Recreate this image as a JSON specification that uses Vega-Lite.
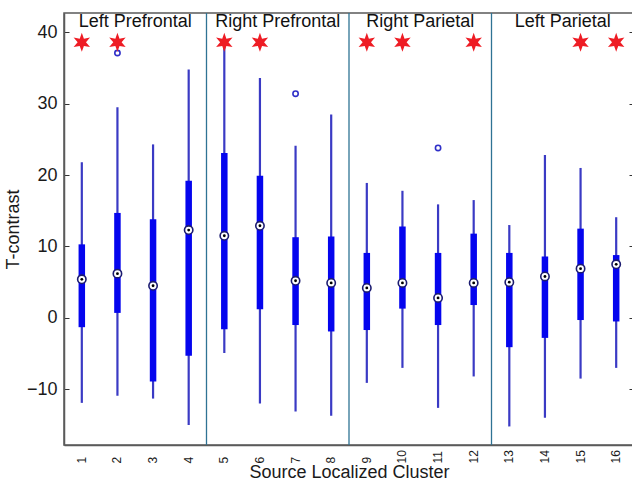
{
  "$schema": "https://vega.github.io/schema/vega-lite/v6.json",
  "width": 570,
  "height": 432,
  "autosize": {"type": "none"},
  "padding": {"left": 64, "top": 13, "right": 0, "bottom": 37},
  "background": "white",
  "config": {
    "font": "Liberation Sans",
    "view": {"stroke": "#5a5a5a", "strokeWidth": 1.5},
    "axis": {"grid": false, "domainColor": "#5a5a5a", "domainWidth": 1.5, "tickColor": "#333333", "labelColor": "#1a1a1a", "titleColor": "#1a1a1a", "titleFontWeight": "normal"}
  },
  "resolve": {"axis": {"y": "independent"}},
  "datasets": {
    "boxes": [
      {"cluster": 1, "lo": -11.9, "q1": -1.3, "med": 5.4, "q3": 10.3, "hi": 21.8},
      {"cluster": 2, "lo": -10.9, "q1": 0.7, "med": 6.2, "q3": 14.7, "hi": 29.5},
      {"cluster": 3, "lo": -11.3, "q1": -8.9, "med": 4.5, "q3": 13.8, "hi": 24.3},
      {"cluster": 4, "lo": -15.0, "q1": -5.3, "med": 12.3, "q3": 19.2, "hi": 34.8},
      {"cluster": 5, "lo": -4.9, "q1": -1.6, "med": 11.5, "q3": 23.1, "hi": 39.0},
      {"cluster": 6, "lo": -12.0, "q1": 1.2, "med": 12.9, "q3": 19.9, "hi": 33.6},
      {"cluster": 7, "lo": -13.1, "q1": -1.0, "med": 5.2, "q3": 11.3, "hi": 24.1},
      {"cluster": 8, "lo": -13.7, "q1": -1.9, "med": 4.9, "q3": 11.4, "hi": 28.5},
      {"cluster": 9, "lo": -9.1, "q1": -1.7, "med": 4.2, "q3": 9.1, "hi": 18.9},
      {"cluster": 10, "lo": -7.0, "q1": 1.3, "med": 4.9, "q3": 12.8, "hi": 17.8},
      {"cluster": 11, "lo": -12.6, "q1": -1.0, "med": 2.8, "q3": 9.1, "hi": 15.9},
      {"cluster": 12, "lo": -8.2, "q1": 1.8, "med": 4.9, "q3": 11.8, "hi": 16.5},
      {"cluster": 13, "lo": -15.2, "q1": -4.1, "med": 5.0, "q3": 9.1, "hi": 13.0},
      {"cluster": 14, "lo": -14.0, "q1": -2.8, "med": 5.8, "q3": 8.6, "hi": 22.8},
      {"cluster": 15, "lo": -8.5, "q1": -0.3, "med": 6.9, "q3": 12.5, "hi": 21.0},
      {"cluster": 16, "lo": -7.0, "q1": -0.5, "med": 7.5, "q3": 8.8, "hi": 14.1}
    ],
    "outliers": [
      {"cluster": 2, "value": 37.1},
      {"cluster": 7, "value": 31.4},
      {"cluster": 11, "value": 23.8}
    ],
    "stars": [
      {"cluster": 1, "value": 38.6},
      {"cluster": 2, "value": 38.6},
      {"cluster": 5, "value": 38.6},
      {"cluster": 6, "value": 38.6},
      {"cluster": 9, "value": 38.6},
      {"cluster": 10, "value": 38.6},
      {"cluster": 12, "value": 38.6},
      {"cluster": 15, "value": 38.6},
      {"cluster": 16, "value": 38.6}
    ],
    "groups": [
      {"first": 1, "center": 3, "value": 41.5, "label": "Left Prefrontal"},
      {"first": 5, "center": 7, "value": 41.5, "label": "Right Prefrontal"},
      {"first": 9, "center": 11, "value": 41.5, "label": "Right Parietal"},
      {"first": 13, "center": 15, "value": 41.5, "label": "Left Parietal"}
    ]
  },
  "layer": [
    {
      "data": {"name": "boxes"},
      "mark": {"type": "rule", "color": "#3a3ac4", "strokeWidth": 2.2},
      "encoding": {
        "x": {"field": "cluster", "type": "nominal", "sort": "ascending", "scale": {"paddingInner": 0, "paddingOuter": 0},
          "axis": {"labelOverlap": false, "labelAngle": 270, "labelFontSize": 12, "labelAlign": "left", "labelBaseline": "middle", "labelPadding": 18, "ticks": false, "title": "Source Localized Cluster", "titleFontSize": 18, "titlePadding": 0}},
        "y": {"field": "lo", "type": "quantitative", "scale": {"domain": [-17.8, 42.7], "nice": false, "zero": false},
          "axis": {"values": [-10, 0, 10, 20, 30, 40], "labelFontSize": 18, "tickSize": -5, "labelPadding": 12, "title": "T-contrast", "titleFontSize": 18, "titlePadding": 4}},
        "y2": {"field": "hi"}
      }
    },
    {
      "data": {"name": "groups"},
      "transform": [{"filter": "datum.first > 1"}],
      "mark": {"type": "rule", "color": "#2f7394", "strokeWidth": 1.3},
      "encoding": {
        "x": {"field": "first", "type": "nominal", "bandPosition": 0}
      }
    },
    {
      "data": {"name": "boxes"},
      "mark": {"type": "rule", "color": "#0505ee", "strokeWidth": 6.5},
      "encoding": {
        "x": {"field": "cluster", "type": "nominal"},
        "y": {"field": "q1", "type": "quantitative",
          "axis": {"orient": "right", "values": [-10, 0, 10, 20, 30, 40], "labels": false, "tickSize": -5, "title": null}},
        "y2": {"field": "q3"}
      }
    },
    {
      "data": {"name": "boxes"},
      "mark": {"type": "point", "shape": "circle", "filled": false, "fill": "white", "fillOpacity": 1, "stroke": "#1c1c70", "strokeWidth": 1.6, "size": 70, "opacity": 1},
      "encoding": {
        "x": {"field": "cluster", "type": "nominal"},
        "y": {"field": "med", "type": "quantitative", "axis": null}
      }
    },
    {
      "data": {"name": "boxes"},
      "mark": {"type": "point", "shape": "circle", "filled": true, "color": "#000000", "size": 8, "opacity": 1},
      "encoding": {
        "x": {"field": "cluster", "type": "nominal"},
        "y": {"field": "med", "type": "quantitative", "axis": null}
      }
    },
    {
      "data": {"name": "outliers"},
      "mark": {"type": "point", "shape": "circle", "filled": false, "stroke": "#3030c8", "strokeWidth": 1.6, "size": 28, "opacity": 1},
      "encoding": {
        "x": {"field": "cluster", "type": "nominal"},
        "y": {"field": "value", "type": "quantitative", "axis": null}
      }
    },
    {
      "data": {"name": "stars"},
      "mark": {"type": "point", "shape": "M0,-1L0.22,-0.38L0.866,-0.5L0.44,0L0.866,0.5L0.22,0.38L0,1L-0.22,0.38L-0.866,0.5L-0.44,0L-0.866,-0.5L-0.22,-0.38Z", "filled": true, "color": "#ee1c24", "size": 360, "opacity": 1},
      "encoding": {
        "x": {"field": "cluster", "type": "nominal"},
        "y": {"field": "value", "type": "quantitative", "axis": null}
      }
    },
    {
      "data": {"name": "groups"},
      "mark": {"type": "text", "fontSize": 18, "color": "#111111", "align": "center", "baseline": "middle"},
      "encoding": {
        "x": {"field": "center", "type": "nominal", "bandPosition": 0},
        "y": {"field": "value", "type": "quantitative", "axis": null},
        "text": {"field": "label"}
      }
    }
  ]
}
